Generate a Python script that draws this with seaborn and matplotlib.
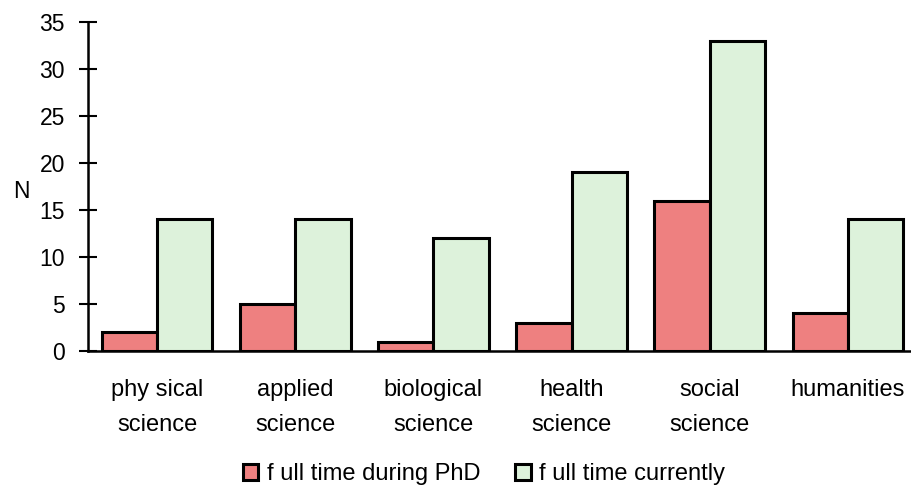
import matplotlib
matplotlib.use("Agg")
import matplotlib.pyplot as plt
import seaborn as sns
import pandas as pd
from matplotlib.patches import Patch

categories = ["phy sical\nscience", "applied\nscience", "biological\nscience",
              "health\nscience", "social\nscience", "humanities"]
during_phd = [2, 5, 1, 3, 16, 4]
currently = [14, 14, 12, 19, 33, 14]
series_names = ["f ull time during PhD", "f ull time currently"]
y_ticks = [0, 5, 10, 15, 20, 25, 30, 35]

df = pd.DataFrame({
    "category": categories * 2,
    "value": during_phd + currently,
    "series": [series_names[0]] * len(categories) + [series_names[1]] * len(categories),
})

sns.set_theme(style="white")
plt.rcParams['font.family'] = ['Liberation Sans', 'DejaVu Sans']
plt.rcParams['text.color'] = 'black'
plt.rcParams['xtick.color'] = 'black'
plt.rcParams['ytick.color'] = 'black'
plt.rcParams['axes.labelcolor'] = 'black'

colors = ["#EE8080", "#DDF2DB"]

fig = plt.figure(figsize=(9.12, 4.88), dpi=100)
ax = fig.add_axes([88 / 912, 1 - 351 / 488, 829 / 912, 329 / 488])

sns.barplot(data=df, x="category", y="value", hue="series", order=categories,
            hue_order=series_names, palette=colors, edgecolor="black",
            linewidth=2.2, width=0.8, ax=ax, legend=False, saturation=1)

ax.set_xlim(-0.5, len(categories) - 0.5)
ax.set_ylim(0, 35)
ax.set_yticks(y_ticks)
ax.set_yticklabels([str(t) for t in y_ticks], fontsize=16.5)
ax.set_xlabel("")
ax.set_ylabel("N", fontsize=16.5, rotation=0, va="center", ha="center")
ax.yaxis.set_label_coords((21 - 88) / 829, (351 - 192) / 329)

# x ticks between categories
ax.set_xticks([i + 0.5 for i in range(len(categories) - 1)], minor=False)
ax.set_xticklabels([])
ax.set_xticks(range(len(categories)), minor=True)
ax.set_xticklabels(categories, minor=True, fontsize=17, linespacing=1.75)
ax.tick_params(axis="x", which="minor", length=0, pad=20)
ax.tick_params(axis="x", which="major", direction="inout", length=13, width=1.5, color="black")
ax.tick_params(axis="y", which="major", direction="inout", length=13, width=1.5, color="black",
               left=True, pad=10)

for side in ["top", "right"]:
    ax.spines[side].set_visible(False)
for side in ["left", "bottom"]:
    ax.spines[side].set_color("black")
    ax.spines[side].set_linewidth(1.8)

handles = [Patch(facecolor=colors[i], edgecolor="black", linewidth=2.2, label=series_names[i])
           for i in range(2)]
fig.legend(handles=handles, loc="center", bbox_to_anchor=(484 / 912, 1 - 474 / 488), ncol=2,
           frameon=False, fontsize=17, handlelength=0.65, handleheight=0.65,
           handletextpad=0.35, columnspacing=1.5, borderpad=0)

fig.savefig("out.png", dpi=100)
